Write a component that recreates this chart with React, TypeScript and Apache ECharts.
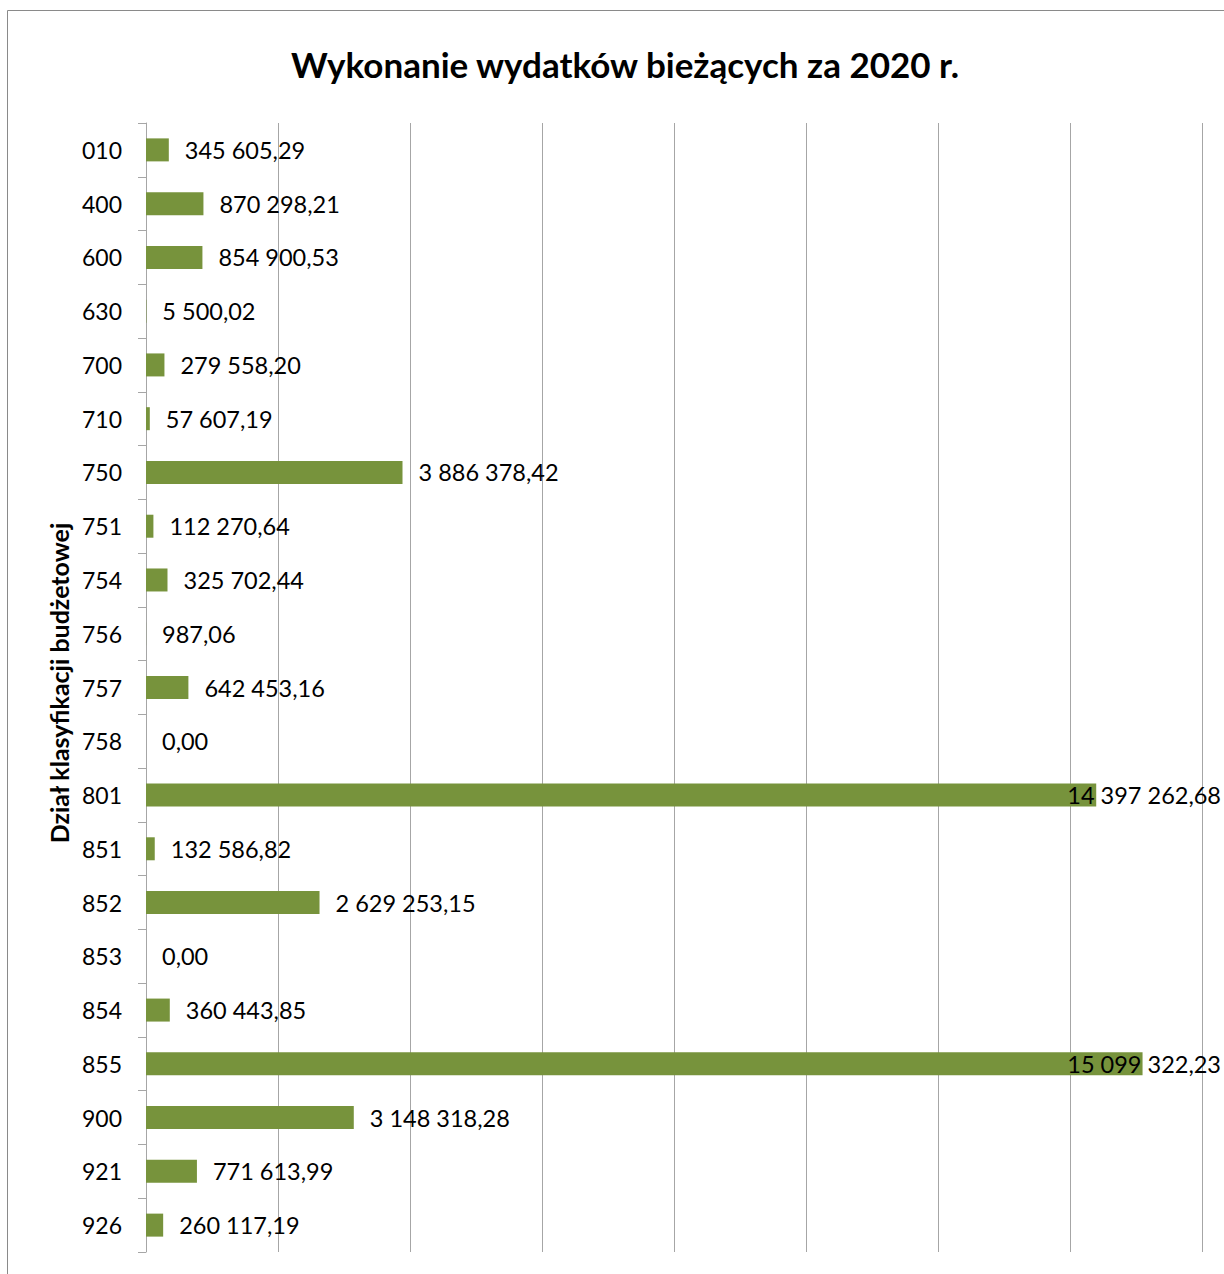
import React, { useEffect, useRef } from "react";
import * as echarts from "echarts";

const categories = ["010", "400", "600", "630", "700", "710", "750", "751", "754", "756", "757", "758", "801", "851", "852", "853", "854", "855", "900", "921", "926"];
const values = [345605.29, 870298.21, 854900.53, 5500.02, 279558.2, 57607.19, 3886378.42, 112270.64, 325702.44, 987.06, 642453.16, 0, 14397262.68, 132586.82, 2629253.15, 0, 360443.85, 15099322.23, 3148318.28, 771613.99, 260117.19];
const titleText = "Wykonanie wydatków bieżących za 2020 r.";
const axisName = "Dział klasyfikacji budżetowej";

function fmtPL(v: number): string {
  const fixed = v.toFixed(2);
  const [intPart, dec] = fixed.split(".");
  const withSpaces = intPart.replace(/\B(?=(\d{3})+(?!\d))/g, " ");
  return withSpaces + "," + dec;
}

const FONT = "Lato, 'Open Sans', sans-serif";

export default function App() {
  const ref = useRef<HTMLDivElement>(null);
  useEffect(() => {
    if (!ref.current) return;
    const chart = echarts.init(ref.current, undefined, { renderer: "svg" });
    const limit = chart.getWidth() - 3;
    chart.setOption({
      animation: false,
      backgroundColor: "#ffffff",
      title: {
        text: titleText,
        left: 620,
        textAlign: "center",
        top: 41,
        textStyle: { fontFamily: FONT, fontSize: 35, fontWeight: "bold", color: "#000" },
      },
      graphic: [
        {
          type: "rect",
          shape: { x: 7.5, y: 10.5, width: 1400, height: 1400 },
          style: { fill: "none", stroke: "#8a8a8a", lineWidth: 1 },
          silent: true,
          z: -1,
        },
        {
          type: "text",
          x: 59,
          y: 683,
          rotation: Math.PI / 2,
          style: {
            text: axisName,
            fontFamily: FONT,
            fontSize: 25,
            fontWeight: "bold",
            fill: "#000",
            align: "center",
            verticalAlign: "middle",
          },
        },
      ],
      grid: { left: 146, right: 22, top: 123, bottom: 22, containLabel: false },
      xAxis: {
        type: "value",
        min: 0,
        max: 16000000,
        interval: 2000000,
        axisLabel: { show: false },
        axisLine: { show: false },
        axisTick: { show: false },
        splitLine: { show: true, lineStyle: { color: "#a6a6a6", width: 1 } },
      },
      yAxis: {
        type: "category",
        inverse: true,
        data: categories,
        axisLine: { show: true, lineStyle: { color: "#a6a6a6", width: 1 } },
        axisTick: { show: true, length: 8, lineStyle: { color: "#a6a6a6" } },
        axisLabel: { margin: 24, fontFamily: FONT, fontSize: 23, color: "#000" },
      },
      series: [
        {
          type: "bar",
          data: values,
          barWidth: 23,
          itemStyle: { color: "#77933C" },
          label: {
            show: true,
            position: "right",
            distance: 16,
            fontFamily: FONT,
            fontSize: 23.5,
            color: "#000",
            formatter: (p: any) => fmtPL(p.value),
          },
          labelLayout: (p: any) => {
            const r = p.labelRect;
            if (r.x + r.width > limit) {
              return { x: limit, y: r.y + r.height / 2, align: "right", verticalAlign: "middle" };
            }
            return {};
          },
        },
      ],
    });
    return () => chart.dispose();
  }, []);
  return (
    <div
      ref={ref}
      style={{ position: "fixed", left: 0, top: 0, width: 1224, height: 1274, background: "#fff" }}
    />
  );
}
